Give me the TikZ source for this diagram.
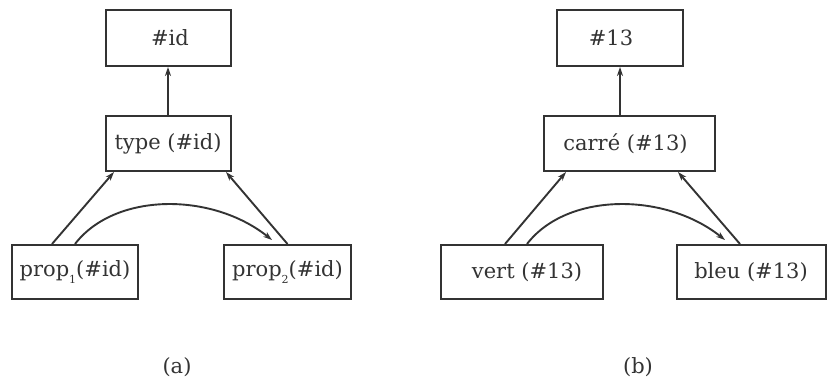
\documentclass[tikz,border=0pt]{standalone}
\usepackage{fontspec}
\setmainfont{DejaVu Serif}
\usetikzlibrary{arrows.meta,calc}
\definecolor{ink}{gray}{0.2}
\begin{document}
\begin{tikzpicture}[x=1pt,y=-1pt,
  box/.style={draw=ink,line width=2pt,text=ink,inner sep=0pt,font=\fontsize{21}{25}\selectfont},
  arr/.style={draw=ink,line width=1.9pt,-{Stealth[length=9pt,width=6pt]}},
  sublabel/.style={text=ink,font=\fontsize{21}{25}\selectfont}]
\useasboundingbox (0,0) rectangle (827,385);
% (a)
\node[box,minimum width=125pt,minimum height=56pt] (idA) at (168,38) {\hspace*{4pt}\#id};
\node[box,minimum width=125pt,minimum height=55pt] (typeA) at (168,143.5) {type (\#id)};
\node[box,minimum width=126pt,minimum height=54pt] (p1) at (75,272) {prop\raisebox{-7pt}{\fontsize{11}{12}\selectfont 1}(\#id)};
\node[box,minimum width=127pt,minimum height=54pt] (p2) at (287.5,272) {prop\raisebox{-7pt}{\fontsize{11}{12}\selectfont 2}(\#id)};
\draw[arr] (typeA.north) -- (idA.south);
\draw[arr] ([xshift=-23pt]p1.north) -- ([xshift=-54pt]typeA.south);
\draw[arr] (p2.north) -- ([xshift=58pt]typeA.south);
\draw[arr] (p1.north) .. controls +(40,-52) and +(-60,-48) .. ([xshift=-15.5pt,yshift=4pt]p2.north);
\node[sublabel] (capA) at (177,367) {(a)};
% (b)
\node[box,minimum width=126pt,minimum height=56pt] (idB) at (620,38) {\#13\hspace*{18pt}};
\node[box,minimum width=171pt,minimum height=55pt] (typeB) at (629.5,143.5) {carr\'e (\#13)\hspace*{8pt}};
\node[box,minimum width=162pt,minimum height=54pt] (vert) at (522,272) {\hspace*{10pt}vert (\#13)};
\node[box,minimum width=149pt,minimum height=54pt] (bleu) at (751,272) {bleu (\#13)};
\draw[arr] (typeB.north -| idB.south) -- (idB.south);
\draw[arr] ([xshift=-17pt]vert.north) -- ([xshift=-63.5pt]typeB.south);
\draw[arr] ([xshift=-11pt]bleu.north) -- ([xshift=48.5pt]typeB.south);
\draw[arr] ([xshift=5pt]vert.north) .. controls +(40,-52) and +(-60,-48) .. ([xshift=-26pt,yshift=4pt]bleu.north);
\node[sublabel] (capB) at (638,367) {(b)};
\end{tikzpicture}
\end{document}
